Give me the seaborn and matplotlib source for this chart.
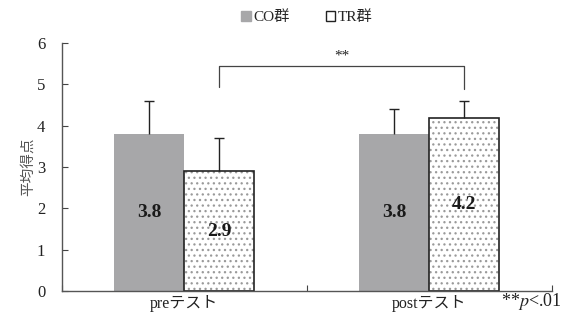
import matplotlib
matplotlib.use("Agg")
import matplotlib.pyplot as plt
import matplotlib.patches as mpatches
import seaborn as sns
import pandas as pd

sns.set_theme(style="white")
plt.rcParams["font.family"] = ["Liberation Serif", "Noto Sans CJK JP"]
plt.rcParams["mathtext.fontset"] = "stix"
plt.rcParams["hatch.linewidth"] = 0.9

# Mean scores and standard deviations per test and group
tests = ["preテスト", "postテスト"]
groups = ["CO群", "TR群"]
co_means = [3.8, 3.8]
tr_means = [2.9, 4.2]
co_sd = [0.8, 0.6]
tr_sd = [0.8, 0.4]
yticks = [0, 1, 2, 3, 4, 5, 6]

df = pd.DataFrame({
    "test": tests * 2,
    "group": [groups[0]] * 2 + [groups[1]] * 2,
    "mean": co_means + tr_means,
    "sd": co_sd + tr_sd,
})

fig = plt.figure(figsize=(5.63, 3.27), dpi=100)
ax = fig.add_axes([0.110, 0.110, 0.870, 0.758])

co_color = "#a7a7a9"
dot_color = "#9a9a9a"
sns.barplot(data=df, x="test", y="mean", hue="group", order=tests,
            hue_order=groups, palette=[co_color, "white"], width=0.572,
            errorbar=None, legend=False, ax=ax, saturation=1)

bars = list(ax.patches)
# CO solid grey; TR white with grey dots and a dark outline
for p, g in zip(bars, [g for g in groups for _ in tests]):
    if g == "TR群":
        p.set_facecolor("white")
        p.set_edgecolor(dot_color)
        p.set_linewidth(0)
        p.set_hatch("...")
        outline = mpatches.Rectangle((p.get_x(), 0), p.get_width(),
                                     p.get_height(), fill=False,
                                     edgecolor="#222222", linewidth=1.2,
                                     zorder=p.get_zorder() + 0.1)
        ax.add_patch(outline)
    else:
        p.set_facecolor(co_color)
        p.set_edgecolor(co_color)
        p.set_linewidth(0)

# upward-only error bars and value labels
for p, (_, row) in zip(bars, df.iterrows()):
    cx = p.get_x() + p.get_width() / 2
    h = p.get_height()
    top = h + row["sd"]
    ax.vlines(cx, h, top, color="#222222", lw=1.0, zorder=3)
    ax.plot([cx], [top], marker="_", markersize=7, markeredgewidth=1.0,
            color="#222222", zorder=3)
    ax.text(cx, h / 2, f"{row['mean']:.1f}", ha="center", va="center",
            fontsize=14, fontweight="bold", color="#1a1a1a", zorder=4)

# significance bracket between TR bars
tr_bars = bars[2:4]
x1 = tr_bars[0].get_x() + tr_bars[0].get_width() / 2
x2 = tr_bars[1].get_x() + tr_bars[1].get_width() / 2
ax.plot([x1, x1, x2, x2], [4.95, 5.45, 5.45, 4.9], color="#444444",
        lw=0.9, clip_on=False)
ax.text((x1 + x2) / 2, 5.52, "**", ha="center", va="bottom", fontsize=11,
        color="#222222")

ax.set_xlim(-0.5, 1.5)
ax.set_ylim(0, 6)
ax.set_yticks(yticks)
ax.set_yticklabels([str(v) for v in yticks], fontsize=12)
ax.set_xlabel("")
ax.set_ylabel("平均得点", fontsize=10.5, color="#555555")
ax.yaxis.set_label_coords(-0.056, 0.5)
ax.tick_params(axis="y", direction="in", length=4, width=0.8, colors="#444444",
               labelcolor="#222222", left=True, pad=12)
ax.set_xticks([-0.5, 0.5, 1.5], minor=True)
ax.tick_params(axis="x", which="minor", direction="in", length=4, width=0.8,
               colors="#444444", bottom=True)
ax.tick_params(axis="x", which="major", length=0, labelsize=11.5,
               labelcolor="#222222", pad=3)
for s in ["top", "right"]:
    ax.spines[s].set_visible(False)
for s in ["left", "bottom"]:
    ax.spines[s].set_color("#555555")
    ax.spines[s].set_linewidth(1.0)

fig.text(0.997, 0.078, "**$p$<.01", ha="right", va="center", fontsize=13,
         color="#222222")

# legend across the top
h_co = mpatches.Patch(facecolor=co_color, edgecolor=co_color)
h_tr = mpatches.Patch(facecolor="white", edgecolor="#222222")
fig.legend([h_co, h_tr], groups, loc="upper center", ncol=2, frameon=False,
           bbox_to_anchor=(0.545, 1.01), handlelength=0.6, handleheight=0.6,
           handletextpad=0.15, columnspacing=2.4, fontsize=11)

fig.savefig("out.png", dpi=100)
